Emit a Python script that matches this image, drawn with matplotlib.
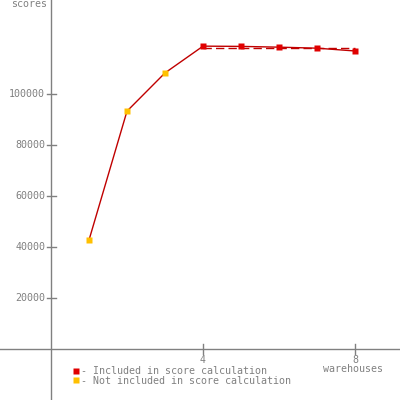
import numpy as np
import matplotlib
matplotlib.use('Agg')
import matplotlib.pyplot as plt

# scores per warehouse count
warehouses = [1, 2, 3, 4, 5, 6, 7, 8]
scores = [42700, 93300, 108300, 118800, 118700, 118400, 118000, 116900]
included = [False, False, False, True, True, True, True, True]
score_mean = 118200
yticks = [20000, 40000, 60000, 80000, 100000]
xticks = [4, 8]

gray = '#808080'
line_col = '#c00000'
inc_col = '#e00000'
exc_col = '#ffc000'
plt.rcParams['font.family'] = 'DejaVu Sans Mono'
fs = 7.2

fig = plt.figure(figsize=(4, 4), dpi=100)
ax = fig.add_axes([0, 0, 1, 1])
ax.set_xlim(-1.34, 9.18)
ax.set_ylim(-20000, 136900)
ax.axis('off')

# axes through origin
ax.axhline(0, color=gray, lw=1)
ax.axvline(0, color=gray, lw=1)

for y in yticks:
    ax.plot([-0.11, 0.13], [y, y], color=gray, lw=1)
    ax.text(-0.15, y, str(y), color=gray, fontsize=fs, ha='right', va='center')
for x in xticks:
    ax.plot([x, x], [-1900, 1900], color=gray, lw=1)
    ax.text(x, -2300, str(x), color=gray, fontsize=fs, ha='center', va='top')

ax.text(-0.1, 137200, 'scores', color=gray, fontsize=fs, ha='right', va='top')
ax.text(7.95, -5700, 'warehouses', color=gray, fontsize=fs, ha='center', va='top')

# score line (mean of included points)
inc_x = [x for x, f in zip(warehouses, included) if f]
ax.plot([inc_x[0], inc_x[-1]], [score_mean, score_mean], color=line_col,
        lw=1, dashes=(6, 3))

ax.plot(warehouses, scores, color=line_col, lw=1)
for x, y, f in zip(warehouses, scores, included):
    ax.plot(x, y, marker='s', ms=4, color=inc_col if f else exc_col, mec='none')

# legend
ax.plot(0.65, -8800, marker='s', ms=4, color=inc_col, mec='none')
ax.plot(0.65, -12300, marker='s', ms=4, color=exc_col, mec='none')
ax.text(0.8, -8600, '- Included in score calculation', color=gray, fontsize=fs,
        va='center')
ax.text(0.8, -12500, '- Not included in score calculation', color=gray,
        fontsize=fs, va='center')

fig.savefig('out.png', dpi=100, facecolor='white')
